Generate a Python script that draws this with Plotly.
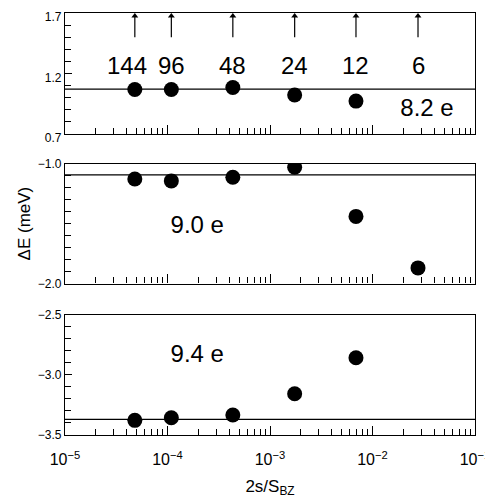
import numpy as np
import plotly.graph_objects as go
from plotly.subplots import make_subplots

# data
n_labels = ["144", "96", "48", "24", "12", "6"]
x_vals = [4.8e-5, 1.09e-4, 4.34e-4, 1.74e-3, 6.9e-3, 2.78e-2]

y_82 = [1.066, 1.066, 1.083, 1.02, 0.97]
y_90 = [-1.128, -1.144, -1.114, -1.03, -1.44, -1.87]
y_94 = [-3.378, -3.356, -3.334, -3.157, -2.858]

fit_82 = 1.069
fit_90 = -1.094
fit_94 = -3.370

panel_names = ["8.2 e", "9.0 e", "9.4 e"]
name_pos = [(3.4e-2, 0.90), (1.95e-4, -1.53), (1.95e-4, -2.84)]

y_ranges = [[0.7, 1.7], [-2.0, -1.0], [-3.5, -2.5]]
y_ticks = [[0.7, 1.2, 1.7], [-2.0, -1.0], [-3.5, -3.0, -2.5]]
y_ticktext = [["0.7", "1.2", "1.7"], ["\u22122.0", "\u22121.0"], ["\u22123.5", "\u22123.0", "\u22122.5"]]

x_tickvals = [1e-5, 1e-4, 1e-3, 1e-2, 1e-1]
x_ticktext = ["10<sup>\u22125</sup>", "10<sup>\u22124</sup>", "10<sup>\u22123</sup>",
              "10<sup>\u22122</sup>", "10<sup>\u22121</sup>"]
x_minor = [d * m for d in x_tickvals[:-1] for m in range(2, 10)]

label_shift = [-8, 0, 0, 0, 0, 0]

FONT = "Liberation Sans, Arial, sans-serif"

fig = make_subplots(rows=3, cols=1, shared_xaxes=False)

series = [y_82, y_90, y_94]
fits = [fit_82, fit_90, fit_94]
for i in range(3):
    r = i + 1
    ys = series[i]
    fig.add_trace(go.Scatter(x=[x_tickvals[0], x_tickvals[-1]], y=[fits[i], fits[i]],
                             mode="lines", line=dict(color="black", width=1.2),
                             showlegend=False, hoverinfo="skip"), row=r, col=1)
    fig.add_trace(go.Scatter(x=x_vals[:len(ys)], y=ys, mode="markers",
                             marker=dict(color="black", size=15, line=dict(width=0)),
                             showlegend=False), row=r, col=1)
    fig.add_trace(go.Scatter(x=[name_pos[i][0]], y=[name_pos[i][1]], mode="text",
                             text=[panel_names[i]],
                             textfont=dict(size=24, color="black", family=FONT),
                             showlegend=False, hoverinfo="skip"), row=r, col=1)

# N labels in top panel
for xv, lab, sh in zip(x_vals, n_labels, label_shift):
    fig.add_annotation(x=float(np.log10(xv)), y=1.265, xref="x", yref="y", text=lab,
                       showarrow=False, xshift=sh,
                       font=dict(size=24, color="black", family=FONT))

# arrows in top panel
ax_x, ax_y = [], []
for xv in x_vals:
    ax_x += [xv, xv, None]
    ax_y += [1.5, 1.68, None]
fig.add_trace(go.Scatter(x=ax_x, y=ax_y, mode="lines", line=dict(color="black", width=1.2),
                         showlegend=False, hoverinfo="skip"), row=1, col=1)
fig.add_trace(go.Scatter(x=x_vals, y=[1.675] * len(x_vals), mode="markers",
                         marker=dict(symbol="triangle-up", size=6, color="black"),
                         showlegend=False, hoverinfo="skip"), row=1, col=1)

domains = [[0.714, 1.0], [0.359, 0.643], [0.0, 0.285]]
for i in range(3):
    r = i + 1
    fig.update_xaxes(type="log", range=[-5, -1], showline=True, linecolor="black",
                     linewidth=1.2, mirror=True, ticks="inside", ticklen=9,
                     tickcolor="black", tickwidth=1, tickvals=x_tickvals,
                     ticktext=x_ticktext, showticklabels=(r == 3), showgrid=False,
                     zeroline=False, automargin=False, ticklabelstandoff=10,
                     ticklabeloverflow="allow",
                     minor=dict(ticks="inside", ticklen=6, tickcolor="black",
                                tickwidth=1, tickmode="array", tickvals=x_minor,
                                showgrid=False),
                     tickfont=dict(size=16, color="black", family=FONT),
                     row=r, col=1)
    fig.update_yaxes(range=y_ranges[i], showline=True, linecolor="black",
                     linewidth=1.2, mirror=True, ticks="inside", ticklen=7,
                     tickcolor="black", tickwidth=1, tickvals=y_ticks[i],
                     ticktext=y_ticktext[i], showgrid=False, zeroline=False,
                     domain=domains[i], automargin=False,
                     ticklabeloverflow="allow",
                     ticklabelshift=(4 if r == 1 else 0),
                     minor=dict(ticks="inside", ticklen=6, tickcolor="black",
                                tickwidth=1, dtick=0.1, tick0=0, showgrid=False),
                     tickfont=dict(size=12, color="black", family=FONT),
                     row=r, col=1)

fig.update_yaxes(title=dict(text="\u0394E (meV)", font=dict(size=17, color="black", family=FONT),
                            standoff=2), row=2, col=1)
fig.update_xaxes(title=dict(text="2s/S<sub>BZ</sub>", font=dict(size=17, color="black", family=FONT),
                            standoff=12), row=3, col=1)

# the page body adds an 8px offset; size and margins compensate for it
fig.update_layout(width=485, height=495, margin=dict(l=57, r=18, t=5, b=68),
                  plot_bgcolor="white", paper_bgcolor="white",
                  font=dict(family=FONT, color="black"))

fig.write_html("out.html")
